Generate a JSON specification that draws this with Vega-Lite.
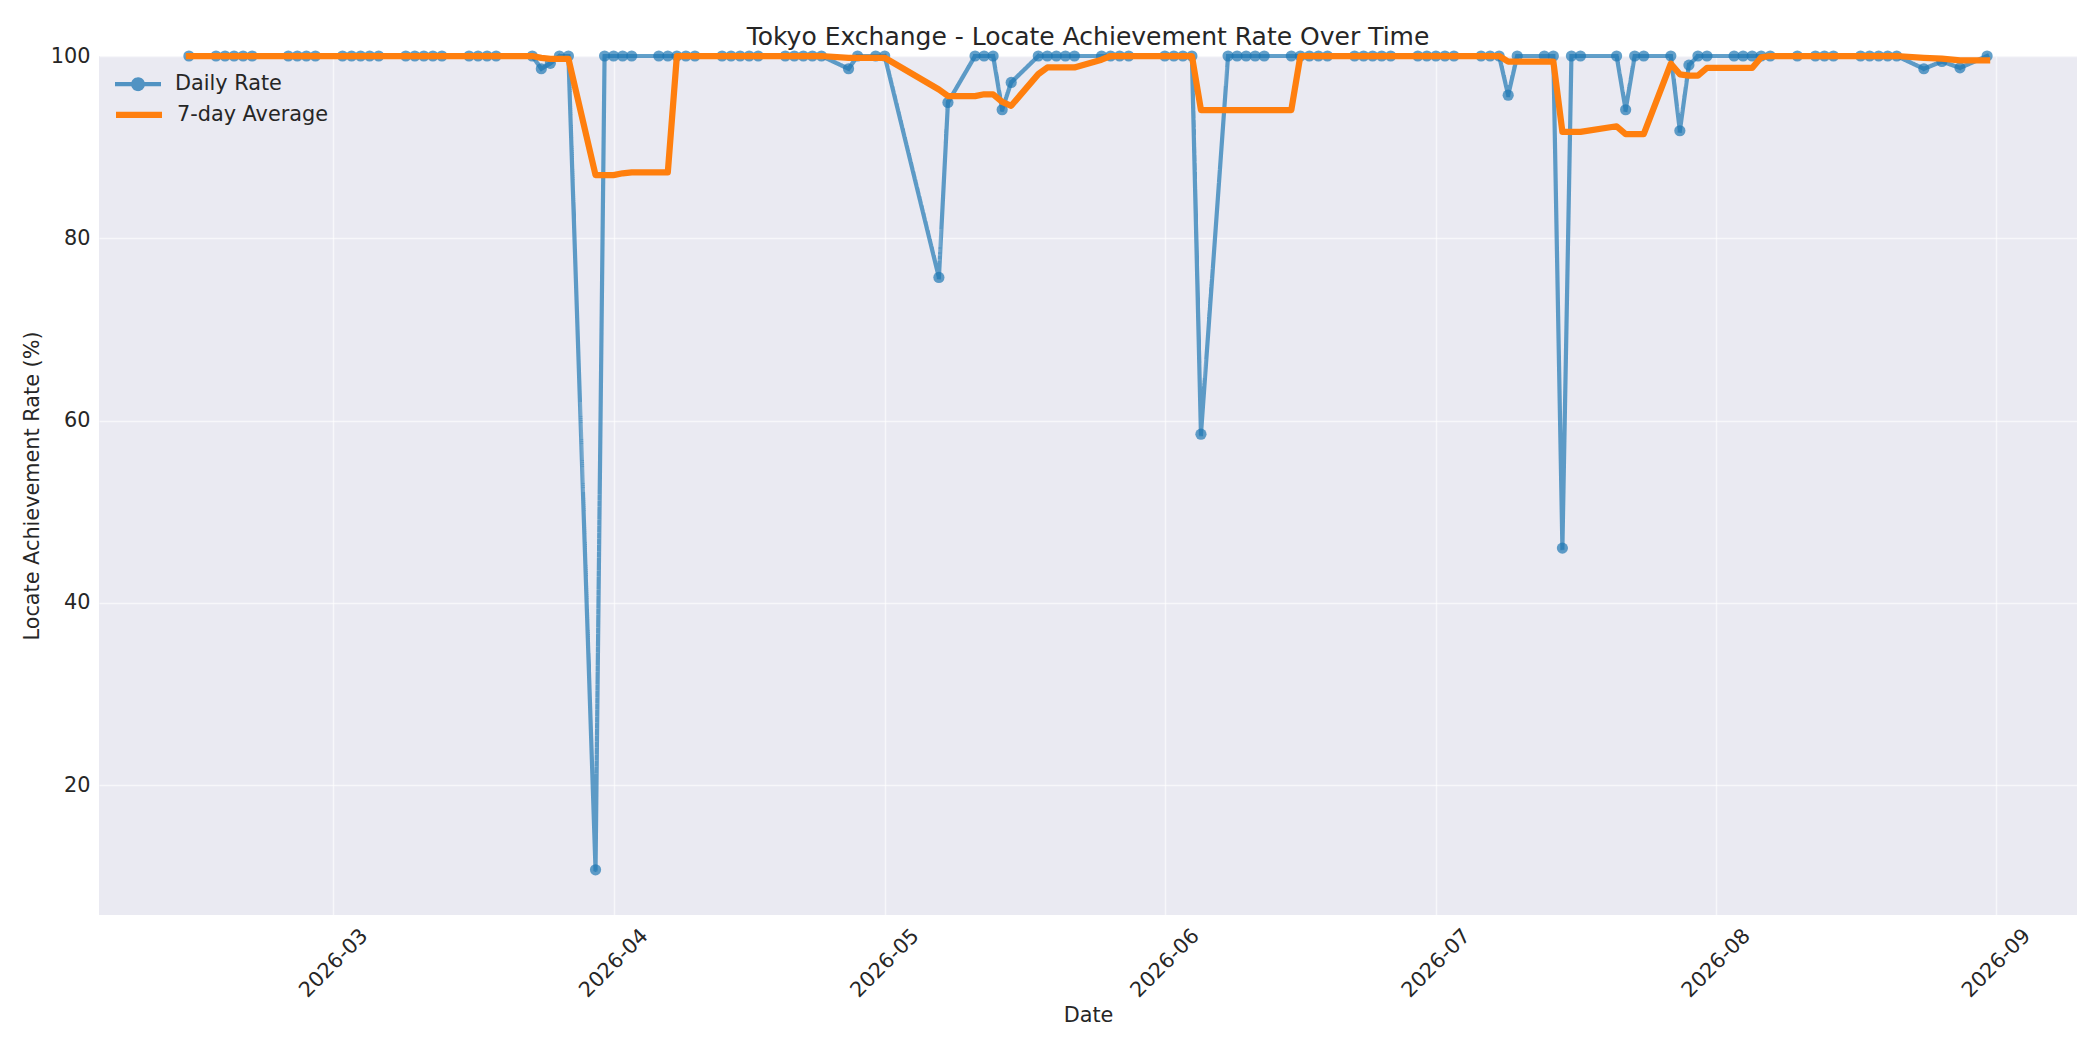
{
  "$schema": "https://vega.github.io/schema/vega-lite/v6.json",
  "width": 1978,
  "height": 859,
  "autosize": {"type": "none"},
  "padding": {"left": 99, "top": 56, "right": 23, "bottom": 135},
  "background": "white",
  "title": {
    "text": "Tokyo Exchange - Locate Achievement Rate Over Time",
    "anchor": "middle",
    "frame": "group",
    "font": "DejaVu Sans",
    "fontSize": 25,
    "fontWeight": "normal",
    "color": "#262626",
    "baseline": "bottom",
    "offset": 12,
    "dy": 42
  },
  "data": {
    "values": [
      {"date": "2026-02-13", "rate": 100, "avg7": 100},
      {"date": "2026-02-16", "rate": 100, "avg7": 100},
      {"date": "2026-02-17", "rate": 100, "avg7": 100},
      {"date": "2026-02-18", "rate": 100, "avg7": 100},
      {"date": "2026-02-19", "rate": 100, "avg7": 100},
      {"date": "2026-02-20", "rate": 100, "avg7": 100},
      {"date": "2026-02-24", "rate": 100, "avg7": 100},
      {"date": "2026-02-25", "rate": 100, "avg7": 100},
      {"date": "2026-02-26", "rate": 100, "avg7": 100},
      {"date": "2026-02-27", "rate": 100, "avg7": 100},
      {"date": "2026-03-02", "rate": 100, "avg7": 100},
      {"date": "2026-03-03", "rate": 100, "avg7": 100},
      {"date": "2026-03-04", "rate": 100, "avg7": 100},
      {"date": "2026-03-05", "rate": 100, "avg7": 100},
      {"date": "2026-03-06", "rate": 100, "avg7": 100},
      {"date": "2026-03-09", "rate": 100, "avg7": 100},
      {"date": "2026-03-10", "rate": 100, "avg7": 100},
      {"date": "2026-03-11", "rate": 100, "avg7": 100},
      {"date": "2026-03-12", "rate": 100, "avg7": 100},
      {"date": "2026-03-13", "rate": 100, "avg7": 100},
      {"date": "2026-03-16", "rate": 100, "avg7": 100},
      {"date": "2026-03-17", "rate": 100, "avg7": 100},
      {"date": "2026-03-18", "rate": 100, "avg7": 100},
      {"date": "2026-03-19", "rate": 100, "avg7": 100},
      {"date": "2026-03-23", "rate": 100, "avg7": 100},
      {"date": "2026-03-24", "rate": 98.6, "avg7": 99.8},
      {"date": "2026-03-25", "rate": 99.2, "avg7": 99.69},
      {"date": "2026-03-26", "rate": 100, "avg7": 99.69},
      {"date": "2026-03-27", "rate": 100, "avg7": 99.69},
      {"date": "2026-03-30", "rate": 10.7, "avg7": 86.93},
      {"date": "2026-03-31", "rate": 100, "avg7": 86.93},
      {"date": "2026-04-01", "rate": 100, "avg7": 86.93},
      {"date": "2026-04-02", "rate": 100, "avg7": 87.13},
      {"date": "2026-04-03", "rate": 100, "avg7": 87.24},
      {"date": "2026-04-06", "rate": 100, "avg7": 87.24},
      {"date": "2026-04-07", "rate": 100, "avg7": 87.24},
      {"date": "2026-04-08", "rate": 100, "avg7": 100},
      {"date": "2026-04-09", "rate": 100, "avg7": 100},
      {"date": "2026-04-10", "rate": 100, "avg7": 100},
      {"date": "2026-04-13", "rate": 100, "avg7": 100},
      {"date": "2026-04-14", "rate": 100, "avg7": 100},
      {"date": "2026-04-15", "rate": 100, "avg7": 100},
      {"date": "2026-04-16", "rate": 100, "avg7": 100},
      {"date": "2026-04-17", "rate": 100, "avg7": 100},
      {"date": "2026-04-20", "rate": 100, "avg7": 100},
      {"date": "2026-04-21", "rate": 100, "avg7": 100},
      {"date": "2026-04-22", "rate": 100, "avg7": 100},
      {"date": "2026-04-23", "rate": 100, "avg7": 100},
      {"date": "2026-04-24", "rate": 100, "avg7": 100},
      {"date": "2026-04-27", "rate": 98.6, "avg7": 99.8},
      {"date": "2026-04-28", "rate": 100, "avg7": 99.8},
      {"date": "2026-04-30", "rate": 100, "avg7": 99.8},
      {"date": "2026-05-01", "rate": 100, "avg7": 99.8},
      {"date": "2026-05-07", "rate": 75.7, "avg7": 96.33},
      {"date": "2026-05-08", "rate": 94.9, "avg7": 95.6},
      {"date": "2026-05-11", "rate": 100, "avg7": 95.6},
      {"date": "2026-05-12", "rate": 100, "avg7": 95.8},
      {"date": "2026-05-13", "rate": 100, "avg7": 95.8},
      {"date": "2026-05-14", "rate": 94.1, "avg7": 94.96},
      {"date": "2026-05-15", "rate": 97.1, "avg7": 94.54},
      {"date": "2026-05-18", "rate": 100, "avg7": 98.01},
      {"date": "2026-05-19", "rate": 100, "avg7": 98.74},
      {"date": "2026-05-20", "rate": 100, "avg7": 98.74},
      {"date": "2026-05-21", "rate": 100, "avg7": 98.74},
      {"date": "2026-05-22", "rate": 100, "avg7": 98.74},
      {"date": "2026-05-25", "rate": 100, "avg7": 99.59},
      {"date": "2026-05-26", "rate": 100, "avg7": 100},
      {"date": "2026-05-27", "rate": 100, "avg7": 100},
      {"date": "2026-05-28", "rate": 100, "avg7": 100},
      {"date": "2026-06-01", "rate": 100, "avg7": 100},
      {"date": "2026-06-02", "rate": 100, "avg7": 100},
      {"date": "2026-06-03", "rate": 100, "avg7": 100},
      {"date": "2026-06-04", "rate": 100, "avg7": 100},
      {"date": "2026-06-05", "rate": 58.5, "avg7": 94.07},
      {"date": "2026-06-08", "rate": 100, "avg7": 94.07},
      {"date": "2026-06-09", "rate": 100, "avg7": 94.07},
      {"date": "2026-06-10", "rate": 100, "avg7": 94.07},
      {"date": "2026-06-11", "rate": 100, "avg7": 94.07},
      {"date": "2026-06-12", "rate": 100, "avg7": 94.07},
      {"date": "2026-06-15", "rate": 100, "avg7": 94.07},
      {"date": "2026-06-16", "rate": 100, "avg7": 100},
      {"date": "2026-06-17", "rate": 100, "avg7": 100},
      {"date": "2026-06-18", "rate": 100, "avg7": 100},
      {"date": "2026-06-19", "rate": 100, "avg7": 100},
      {"date": "2026-06-22", "rate": 100, "avg7": 100},
      {"date": "2026-06-23", "rate": 100, "avg7": 100},
      {"date": "2026-06-24", "rate": 100, "avg7": 100},
      {"date": "2026-06-25", "rate": 100, "avg7": 100},
      {"date": "2026-06-26", "rate": 100, "avg7": 100},
      {"date": "2026-06-29", "rate": 100, "avg7": 100},
      {"date": "2026-06-30", "rate": 100, "avg7": 100},
      {"date": "2026-07-01", "rate": 100, "avg7": 100},
      {"date": "2026-07-02", "rate": 100, "avg7": 100},
      {"date": "2026-07-03", "rate": 100, "avg7": 100},
      {"date": "2026-07-06", "rate": 100, "avg7": 100},
      {"date": "2026-07-07", "rate": 100, "avg7": 100},
      {"date": "2026-07-08", "rate": 100, "avg7": 100},
      {"date": "2026-07-09", "rate": 95.7, "avg7": 99.39},
      {"date": "2026-07-10", "rate": 100, "avg7": 99.39},
      {"date": "2026-07-13", "rate": 100, "avg7": 99.39},
      {"date": "2026-07-14", "rate": 100, "avg7": 99.39},
      {"date": "2026-07-15", "rate": 46.0, "avg7": 91.67},
      {"date": "2026-07-16", "rate": 100, "avg7": 91.67},
      {"date": "2026-07-17", "rate": 100, "avg7": 91.67},
      {"date": "2026-07-21", "rate": 100, "avg7": 92.29},
      {"date": "2026-07-22", "rate": 94.1, "avg7": 91.44},
      {"date": "2026-07-23", "rate": 100, "avg7": 91.44},
      {"date": "2026-07-24", "rate": 100, "avg7": 91.44},
      {"date": "2026-07-27", "rate": 100, "avg7": 99.16},
      {"date": "2026-07-28", "rate": 91.8, "avg7": 97.99},
      {"date": "2026-07-29", "rate": 99.0, "avg7": 97.84},
      {"date": "2026-07-30", "rate": 100, "avg7": 97.84},
      {"date": "2026-07-31", "rate": 100, "avg7": 98.69},
      {"date": "2026-08-03", "rate": 100, "avg7": 98.69},
      {"date": "2026-08-04", "rate": 100, "avg7": 98.69},
      {"date": "2026-08-05", "rate": 100, "avg7": 98.69},
      {"date": "2026-08-06", "rate": 100, "avg7": 99.86},
      {"date": "2026-08-07", "rate": 100, "avg7": 100},
      {"date": "2026-08-10", "rate": 100, "avg7": 100},
      {"date": "2026-08-12", "rate": 100, "avg7": 100},
      {"date": "2026-08-13", "rate": 100, "avg7": 100},
      {"date": "2026-08-14", "rate": 100, "avg7": 100},
      {"date": "2026-08-17", "rate": 100, "avg7": 100},
      {"date": "2026-08-18", "rate": 100, "avg7": 100},
      {"date": "2026-08-19", "rate": 100, "avg7": 100},
      {"date": "2026-08-20", "rate": 100, "avg7": 100},
      {"date": "2026-08-21", "rate": 100, "avg7": 100},
      {"date": "2026-08-24", "rate": 98.6, "avg7": 99.8},
      {"date": "2026-08-26", "rate": 99.4, "avg7": 99.71},
      {"date": "2026-08-28", "rate": 98.7, "avg7": 99.53},
      {"date": "2026-08-31", "rate": 100, "avg7": 99.53}
    ]
  },
  "encoding": {
    "x": {
      "field": "date",
      "type": "temporal",
      "scale": {
        "type": "utc",
        "domain": [
          {"year": 2026, "month": 2, "date": 3, "hours": 1, "minutes": 12, "utc": true},
          {"year": 2026, "month": 9, "date": 9, "hours": 22, "minutes": 48, "utc": true}
        ]
      },
      "axis": {
        "title": "Date",
        "values": [
          {"year": 2026, "month": 3, "date": 1, "utc": true},
          {"year": 2026, "month": 4, "date": 1, "utc": true},
          {"year": 2026, "month": 5, "date": 1, "utc": true},
          {"year": 2026, "month": 6, "date": 1, "utc": true},
          {"year": 2026, "month": 7, "date": 1, "utc": true},
          {"year": 2026, "month": 8, "date": 1, "utc": true},
          {"year": 2026, "month": 9, "date": 1, "utc": true}
        ],
        "format": "%Y-%m",
        "labelAngle": -45,
        "labelAlign": "center",
        "labelBaseline": "middle",
        "labelPadding": 48,
        "labelOverlap": false,
        "labelFlush": false,
        "titlePadding": 5
      }
    }
  },
  "layer": [
    {
      "mark": {"type": "line", "strokeWidth": 4.2, "opacity": 0.7, "color": "#1f77b4", "strokeJoin": "round", "strokeCap": "square"},
      "encoding": {
        "y": {
          "field": "rate",
          "type": "quantitative",
          "title": "Locate Achievement Rate (%)",
          "scale": {"domain": [5.74, 100], "nice": false, "zero": false},
          "axis": {"values": [20, 40, 60, 80, 100], "labelPadding": 9, "titlePadding": 8}
        },
        "strokeDash": {
          "datum": "Daily Rate",
          "scale": {"domain": ["Daily Rate"], "range": [[1, 0]]},
          "legend": {
            "title": null,
            "orient": "none",
            "legendX": 25,
            "legendY": 14.2,
            "padding": 0,
            "symbolType": "M-2,0H2M-0.42,0A0.42,0.42 0 1 0 0.42,0A0.42,0.42 0 1 0 -0.42,0",
            "symbolSize": 529,
            "symbolStrokeWidth": 4.2,
            "symbolStrokeColor": "#1f77b4",
            "symbolFillColor": "#1f77b4",
            "symbolOpacity": 0.75,
            "symbolDash": [1, 0],
            "labelOffset": 23,
            "labelFont": "DejaVu Sans",
            "labelFontSize": 20.8,
            "labelColor": "#262626"
          }
        }
      }
    },
    {
      "mark": {"type": "point", "filled": true, "size": 125, "opacity": 0.7, "color": "#1f77b4"},
      "encoding": {
        "y": {"field": "rate", "type": "quantitative", "title": "Locate Achievement Rate (%)"}
      }
    },
    {
      "mark": {"type": "line", "strokeWidth": 6.25, "strokeJoin": "round", "strokeCap": "square"},
      "encoding": {
        "y": {"field": "avg7", "type": "quantitative", "title": "Locate Achievement Rate (%)"},
        "color": {
          "datum": "7-day Average",
          "scale": {"domain": ["7-day Average"], "range": ["#ff7f0e"]},
          "legend": {
            "title": null,
            "orient": "none",
            "legendX": 25,
            "legendY": 43.8,
            "padding": 0,
            "symbolType": "M-2,0H2",
            "symbolSize": 529,
            "symbolStrokeWidth": 6.25,
            "symbolStrokeColor": "#ff7f0e",
            "labelOffset": 23,
            "labelFont": "DejaVu Sans",
            "labelFontSize": 20.8,
            "labelColor": "#262626"
          }
        }
      }
    }
  ],
  "config": {
    "view": {"fill": "#eaeaf2", "stroke": null},
    "font": "DejaVu Sans",
    "axis": {
      "domain": false,
      "ticks": false,
      "grid": true,
      "gridColor": "#ffffff",
      "gridOpacity": 0.6,
      "gridWidth": 1.5,
      "labelFont": "DejaVu Sans",
      "labelFontSize": 20.8,
      "labelColor": "#262626",
      "titleFont": "DejaVu Sans",
      "titleFontSize": 20.8,
      "titleColor": "#262626",
      "titleFontWeight": "normal"
    }
  }
}
